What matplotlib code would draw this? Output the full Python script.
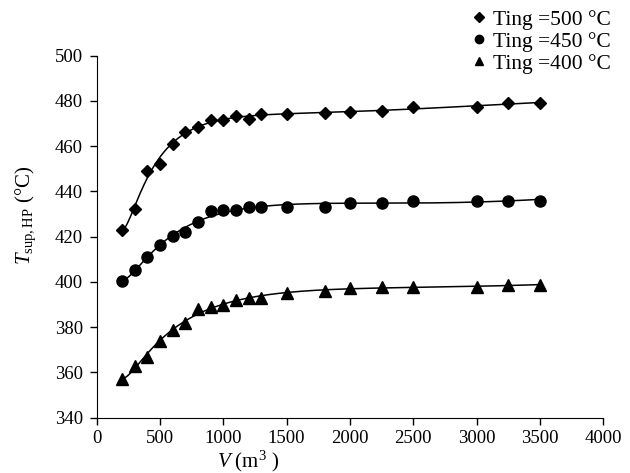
import numpy as np
import matplotlib
matplotlib.use("Agg")
from matplotlib import pyplot as plt

plt.rcParams['font.family'] = ['Liberation Serif', 'DejaVu Serif']
plt.rcParams['mathtext.fontset'] = 'custom'
plt.rcParams['mathtext.rm'] = 'Liberation Serif'
plt.rcParams['mathtext.it'] = 'Liberation Serif:italic'

# volume of storage (m3)
volume = [200, 300, 400, 500, 600, 700, 800, 900, 1000, 1100, 1200, 1300,
          1500, 1800, 2000, 2250, 2500, 3000, 3250, 3500]

# supply temperature for each ignition temperature
t_500 = [423.0, 432.2, 449.2, 452.2, 461.1, 466.3, 468.5, 471.5, 471.8, 473.4, 472.2, 474.1,
         474.1, 474.8, 475.3, 475.5, 477.2, 477.4, 479.0, 479.2]
t_450 = [400.4, 405.2, 411.2, 416.2, 420.4, 422.3, 426.3, 431.2, 431.9, 431.9, 433.1, 433.1,
         433.1, 433.1, 434.9, 434.9, 435.9, 435.9, 435.9, 435.9]
t_400 = [357.0, 363.0, 367.0, 373.7, 378.9, 381.9, 388.1, 389.0, 390.0, 391.9, 392.8, 392.8,
         394.9, 395.9, 397.4, 397.9, 397.9, 397.9, 398.6, 398.6]

series = [(t_500, 'D', 6.5, 'Ting =500 °C'),
          (t_450, 'o', 8, 'Ting =450 °C'),
          (t_400, '^', 8.5, 'Ting =400 °C')]

fig = plt.figure(figsize=(6.3, 4.73), dpi=100)
ax = fig.add_axes([0.1533, 0.1169, 0.8043, 0.7653])

x = np.array(volume, dtype=float)
xs = np.linspace(x.min(), x.max(), 300)
handles = []
for values, marker, ms, label in series:
    # smooth trend line through the points
    coef = np.polyfit(np.log(x), values, 5)
    ax.plot(xs, np.polyval(coef, np.log(xs)), color='black', lw=1.1)
    h, = ax.plot(x, values, linestyle='none', marker=marker, ms=ms, color='black', label=label)
    handles.append(h)

ax.set_xlim(0, 4000)
ax.set_ylim(340, 500)
ax.set_xticks(range(0, 4001, 500))
ax.set_yticks(range(340, 501, 20))
ax.spines['top'].set_visible(False)
ax.spines['right'].set_visible(False)
ax.tick_params(direction='out', length=5, width=1, labelsize=13.5, colors='black')
ax.tick_params(axis='y', pad=5)
ax.tick_params(axis='x', pad=4)

ax.set_xlabel('$V$ (m$^3$ )', fontsize=15)
ax.xaxis.set_label_coords(0.3, -0.085)
ax.set_ylabel('$T_{\\mathrm{sup,HP}}$ (°C)', fontsize=15)
ax.yaxis.set_label_coords(-0.115, 0.56)

fig.legend(handles=handles, loc='upper right', bbox_to_anchor=(1.0, 1.02), frameon=False,
           fontsize=15.5, markerscale=0.75, handlelength=0.6, handletextpad=0.35, labelspacing=0.08)

plt.savefig('out.png', dpi=100)
